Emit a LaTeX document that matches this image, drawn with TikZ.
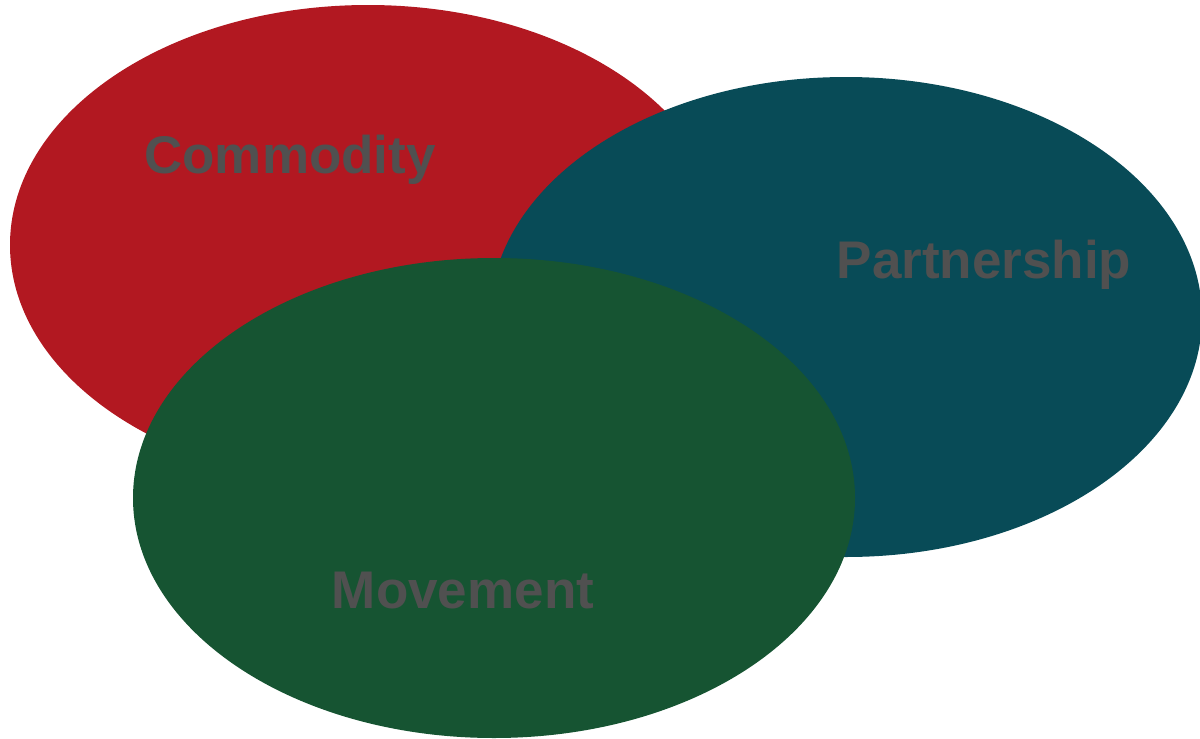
\documentclass[tikz,border=0pt]{standalone}
\usepackage{fontspec}
\setmainfont{Liberation Sans}
\usetikzlibrary{shapes.geometric}
\definecolor{comred}{HTML}{B21821}
\definecolor{parteal}{HTML}{084B57}
\definecolor{movgreen}{HTML}{165432}
\definecolor{labgray}{HTML}{505050}
\newcommand{\blob}[5]{\node[ellipse,fill=#2,inner sep=0pt,minimum width=#4pt,minimum height=#5pt](#1) at (#3) {};}

\begin{document}
\begin{tikzpicture}[x=1pt,y=-1pt]
		\useasboundingbox (0,0) rectangle (1200,739);
		\blob{com}{comred}{368,245}{716}{480}
		\blob{par}{parteal}{846,317}{712}{480}
		\blob{mov}{movgreen}{494,498}{722}{480}
		
		\node[anchor=base,text=labgray,font=\fontsize{53}{60}\selectfont\bfseries](comlab) at (290,173) {Commodity};
		\node[anchor=base,text=labgray,font=\fontsize{53}{60}\selectfont\bfseries](parlab) at (984,278) {Partnership};
		\node[anchor=base,text=labgray,font=\fontsize{53}{60}\selectfont\bfseries](movlab) at (463,608) {Movement};
	\end{tikzpicture}
\end{document}
